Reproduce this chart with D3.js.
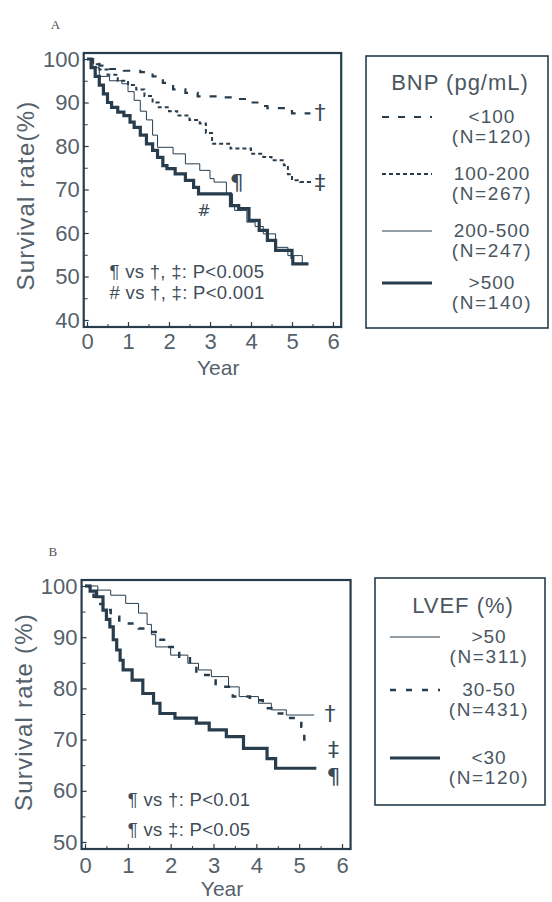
<!DOCTYPE html>
<html>
<head>
<meta charset="utf-8">
<script src="https://cdn.jsdelivr.net/npm/d3@7"></script>
<style>
  body { margin: 0; background: #fff; }
  text { font-family: "Liberation Sans", Arial, sans-serif; fill: #4a5661; }
</style>
</head>
<body>
<svg id="chart" width="552" height="902"></svg>
<script>
// ---- data (years, survival %) ----
var bnpLabels = ["<100", "100-200", "200-500", ">500"];
var bnpN = ["(N=120)", "(N=267)", "(N=247)", "(N=140)"];
var bnpLt100 = [[0,100],[0.15,99.2],[0.3,98.5],[0.55,97.7],[0.9,97.3],[1.3,97],[1.6,96],[1.85,94.5],[2.1,93],[2.4,92.2],[2.7,91.4],[3.2,91.2],[3.6,90.8],[3.9,90],[4.2,89.2],[4.4,88.7],[4.8,88],[5.0,87.5],[5.45,87.5]];
var bnp100_200 = [[0,100],[0.15,98.8],[0.3,97.6],[0.5,96.4],[0.75,95],[1.0,94],[1.2,93],[1.4,91.5],[1.6,90],[1.75,88.9],[2.0,88],[2.2,87],[2.5,86],[2.75,85.2],[2.9,83],[3.05,80.5],[3.5,79.4],[4.0,78.2],[4.3,77.5],[4.5,76.7],[4.8,75.6],[4.9,73.5],[5.0,72.1],[5.2,71.7],[5.5,71.7]];
var bnp200_500 = [[0,100],[0.15,98],[0.3,96],[0.55,95],[0.85,94.3],[1.0,92.5],[1.15,90.5],[1.3,88],[1.45,86],[1.6,82.5],[1.72,79.7],[2.1,78.2],[2.4,75.9],[2.75,74.4],[3.0,72.5],[3.1,71.7],[3.4,69],[3.55,66.5],[3.6,65.2],[3.9,62.5],[4.1,61.5],[4.3,59.8],[4.6,56.7],[4.9,54.8],[5.25,52.9],[5.4,52.9]];
var bnpGt500 = [[0,100],[0.1,98],[0.2,96],[0.3,94],[0.4,92],[0.5,90],[0.6,88.9],[0.75,87.8],[0.9,87],[1.05,85.5],[1.15,84.3],[1.3,82.5],[1.45,80.5],[1.6,79],[1.72,77.4],[1.85,75.5],[1.95,74.8],[2.15,73.6],[2.4,72.1],[2.6,70.5],[2.72,69],[3.4,69],[3.5,66.3],[3.7,65.6],[3.95,62.9],[4.2,60.6],[4.4,58.3],[4.6,56],[5.0,54.4],[5.02,52.9],[5.4,52.9]];
var bnpSeries = [bnpLt100, bnp100_200, bnp200_500, bnpGt500];

var efLabels = [">50", "30-50", "<30"];
var efN = ["(N=311)", "(N=431)", "(N=120)"];
var efGt50 = [[0,100],[0.3,99.2],[0.6,98.2],[0.95,96.6],[1.25,94.7],[1.45,92.5],[1.55,90.5],[1.65,88.1],[2.0,86.5],[2.4,84.9],[2.65,83.6],[2.95,82.3],[3.35,80.3],[3.6,78.4],[4.05,77.1],[4.35,75.8],[4.7,74.8],[5.35,74.8]];
var ef30_50 = [[0,100],[0.1,99],[0.2,97.9],[0.3,96.5],[0.42,95.3],[0.6,94],[0.8,92.7],[1.25,91.7],[1.45,91],[1.7,89.5],[1.9,88.1],[2.2,86.2],[2.45,84.9],[2.6,82.6],[3.05,80.3],[3.45,78.4],[3.85,77.7],[4.15,76.1],[4.45,75.1],[4.75,74.2],[5.05,72.5],[5.12,69.5],[5.15,69.5]];
var efLt30 = [[0,100],[0.12,99],[0.27,97.9],[0.42,95.3],[0.5,93.5],[0.58,92],[0.66,89.5],[0.74,87.5],[0.82,85.5],[0.89,83.6],[1.1,81.6],[1.35,79],[1.6,77.1],[1.75,75.1],[2.1,74.2],[2.6,73.2],[2.9,71.9],[3.3,70.6],[3.7,68.3],[4.25,66.3],[4.45,64.4],[5.4,64.4]];
var efSeries = [efGt50, ef30_50, efLt30];

var xTicks = [0, 1, 2, 3, 4, 5, 6];

var ink = "#273c4d";
var svg = d3.select("#chart");

function panel(opt) {
  var x = d3.scaleLinear().domain([0, 6]).range(opt.xr),
      y = d3.scaleLinear().domain(opt.yd).range(opt.yr);
  var g = svg.append("g");

  // frame
  var xb = y(opt.yd[0]) + 7, yl = x(-0.08);
  g.append("rect")
      .attr("x", yl).attr("y", y(opt.yd[1]) - 6)
      .attr("width", x(6.2) - yl)
      .attr("height", xb - (y(opt.yd[1]) - 6))
      .attr("fill", "none").attr("stroke", ink).attr("stroke-width", 2.2);

  // x axis, inward ticks
  var ax = g.append("g").attr("transform", "translate(0," + xb + ")")
      .call(d3.axisBottom(x).tickValues(xTicks).tickSize(-5).tickPadding(opt.xPad).tickFormat(d3.format("d")));
  ax.select(".domain").remove();
  ax.selectAll("line").attr("stroke", ink).attr("stroke-width", 1.2);
  ax.selectAll("text").attr("font-size", 22).style("fill", "#55616b");
  g.append("g").attr("transform", "translate(0," + xb + ")")
      .call(d3.axisBottom(x).tickValues(d3.range(0.5, 6, 1)).tickSize(-3).tickFormat(""))
      .call(function(s) { s.select(".domain").remove(); s.selectAll("line").attr("stroke", ink); });

  // y axis, inward ticks
  var ay = g.append("g").attr("transform", "translate(" + yl + ",0)")
      .call(d3.axisLeft(y).tickValues(opt.yTicks).tickSize(-5).tickPadding(4).tickFormat(d3.format("d")));
  ay.select(".domain").remove();
  ay.selectAll("line").attr("stroke", ink).attr("stroke-width", 1.2);
  ay.selectAll("text").attr("font-size", 22).style("fill", "#55616b");
  g.append("g").attr("transform", "translate(" + yl + ",0)")
      .call(d3.axisLeft(y).tickValues(opt.yTicks.map(function(d) { return d + 5; }).filter(function(d) { return d < opt.yd[1]; })).tickSize(-4).tickFormat(""))
      .call(function(s) { s.select(".domain").remove(); s.selectAll("line").attr("stroke", ink); });

  // axis titles
  g.append("text")
      .attr("transform", "translate(" + (yl - 58) + "," + (y((opt.yd[0] + opt.yd[1]) / 2) + opt.yTitleShift) + ") rotate(-90)")
      .attr("text-anchor", "middle").attr("dy", "0.35em")
      .attr("font-size", 24).attr("letter-spacing", 1.2).style("fill", "#55616b")
      .text(opt.yLabel);
  g.append("text")
      .attr("x", x(3.2)).attr("y", xb + opt.yearDy)
      .attr("text-anchor", "middle").attr("font-size", 21).style("fill", "#55616b")
      .text("Year");

  // panel letter
  g.append("text")
      .attr("x", yl - 33).attr("y", y(opt.yd[1]) - 30)
      .attr("font-size", 13)
      .style("font-family", "'Liberation Serif', serif").style("fill", "#555")
      .text(opt.letter);

  // curves
  var line = d3.line()
      .x(function(d) { return x(d[0]); })
      .y(function(d) { return y(d[1]); })
      .curve(d3.curveStepAfter);
  opt.series.forEach(function(s, i) {
    g.append("path").datum(s)
        .attr("fill", "none")
        .attr("stroke", ink)
        .attr("stroke-width", opt.widths[i])
        .attr("stroke-dasharray", opt.dashes[i])
        .attr("d", line);
  });

  // symbols on the plot
  opt.marks.forEach(function(m) {
    g.append("text")
        .attr("x", x(m[0])).attr("y", y(m[1]))
        .attr("text-anchor", "middle").attr("dy", "0.35em")
        .attr("font-size", m[3])
        .style("font-family", "'DejaVu Sans', sans-serif")
        .style("fill", "#3a4a57")
        .text(m[2]);
  });

  // p-value notes
  opt.notes.forEach(function(n, i) {
    g.append("text")
        .attr("x", x(opt.noteX)).attr("y", y(opt.noteY) + i * opt.noteGap)
        .attr("dy", "0.35em").attr("font-size", 18.5).attr("letter-spacing", 0.3)
        .style("fill", "#3f4d59")
        .text(n);
  });

  // legend
  var lg = svg.append("g");
  lg.append("rect")
      .attr("x", opt.legBox[0]).attr("y", opt.legBox[1])
      .attr("width", opt.legBox[2] - opt.legBox[0]).attr("height", opt.legBox[3] - opt.legBox[1])
      .attr("fill", "none").attr("stroke", ink).attr("stroke-width", 1.6);
  lg.append("text")
      .attr("x", (opt.legBox[0] + opt.legBox[2]) / 2 + 3).attr("y", opt.legTitleY)
      .attr("text-anchor", "middle").attr("dy", "0.35em").attr("font-size", 22)
      .attr("letter-spacing", 1)
      .text(opt.legTitle);
  opt.labels.forEach(function(l, i) {
    var yy = opt.legRows[i];
    lg.append("line")
        .attr("x1", opt.legLine[0]).attr("x2", opt.legLine[1])
        .attr("y1", yy).attr("y2", yy)
        .attr("stroke", ink)
        .attr("stroke-width", opt.widths[i])
        .attr("stroke-dasharray", opt.legDashes[i]);
    lg.append("text")
        .attr("x", opt.legTextX).attr("y", yy - 1).attr("dy", "0.35em")
        .attr("text-anchor", "middle").attr("font-size", 19).attr("letter-spacing", 1)
        .text(l);
    lg.append("text")
        .attr("x", opt.legTextX).attr("y", yy + 19).attr("dy", "0.35em")
        .attr("text-anchor", "middle").attr("font-size", 19).attr("letter-spacing", 1.6)
        .text(opt.ns[i]);
  });
}

panel({
  letter: "A",
  xr: [87, 333], yd: [40, 100], yr: [320, 59],
  yTicks: [40, 50, 60, 70, 80, 90, 100],
  yLabel: "Survival rate(%)", yTitleShift: 6,
  xPad: 6, yearDy: 48,
  series: bnpSeries,
  widths: [2.2, 2, 1, 3.2],
  dashes: ["7,9", "4,3", null, null],
  marks: [[5.68, 87.7, "\u2020", 22], [5.68, 71.6, "\u2021", 22], [3.65, 71.6, "\u00b6", 22], [2.85, 65.2, "#", 16]],
  notes: ["\u00b6 vs \u2020, \u2021: P<0.005", "# vs \u2020, \u2021: P<0.001"],
  noteX: 0.55, noteY: 51.1, noteGap: 20.5,
  legBox: [366, 56, 548, 328], legTitle: "BNP (pg/mL)", legTitleY: 82,
  labels: bnpLabels, ns: bnpN,
  legRows: [117, 174, 231, 283],
  legLine: [382, 432], legTextX: 492,
  legDashes: ["7,9", "4,3", null, null]
});

panel({
  letter: "B",
  xr: [85, 342], yd: [50, 100], yr: [842, 586],
  yTicks: [50, 60, 70, 80, 90, 100],
  yLabel: "Survival rate (%)", yTitleShift: -2,
  xPad: 8, yearDy: 47,
  series: efSeries,
  widths: [1, 2.5, 3.2],
  dashes: [null, "6,10", null],
  marks: [[5.72, 75.2, "\u2020", 22], [5.8, 68.2, "\u2021", 22], [5.8, 62.8, "\u00b6", 22]],
  notes: ["\u00b6 vs \u2020: P<0.01", "\u00b6 vs \u2021: P<0.05"],
  noteX: 1.0, noteY: 58.3, noteGap: 30,
  legBox: [375, 578, 545, 805], legTitle: "LVEF (%)", legTitleY: 605,
  labels: efLabels, ns: efN,
  legRows: [637, 690, 758],
  legLine: [390, 440], legTextX: 489,
  legDashes: [null, "6,10", null]
});
</script>
</body>
</html>
